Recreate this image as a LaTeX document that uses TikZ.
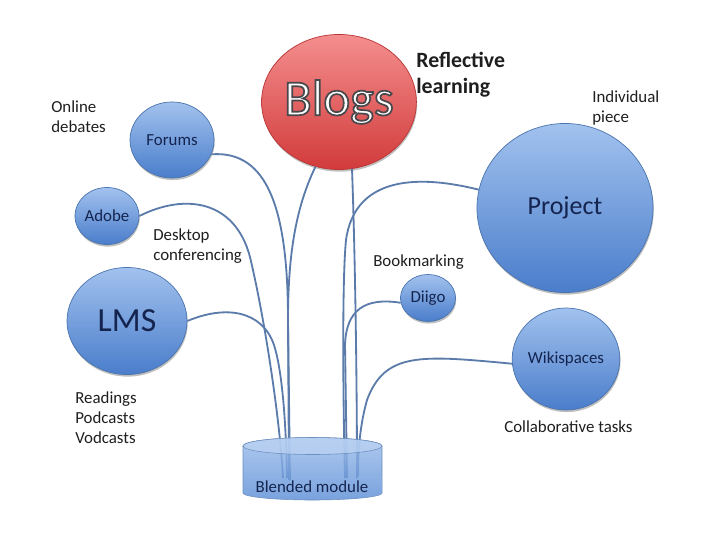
\documentclass[tikz,border=0pt]{standalone}
\usepackage{fontspec}
\setmainfont{Carlito}
\usetikzlibrary{shapes.geometric,shadows}
\definecolor{bubbletop}{HTML}{A2C2EE}
\definecolor{bubblebot}{HTML}{4A7DCB}
\definecolor{bubbleedge}{HTML}{4A74AE}
\definecolor{blogtop}{HTML}{F48E8E}
\definecolor{blogbot}{HTML}{D23B3B}
\definecolor{blogedge}{HTML}{B93434}
\definecolor{linkblue}{HTML}{5B7CAB}
\definecolor{navy}{HTML}{14244E}
\definecolor{cyltop}{HTML}{BCD3F3}
\definecolor{cylmid}{HTML}{9DBEEC}
\definecolor{cylbot}{HTML}{5C8ED6}
% white letters with a dark rim
\newcommand{\rimtext}[1]{\special{pdf:literal direct 2 Tr 1.2 w 0.28 0.28 0.3 RG}#1\special{pdf:literal direct 0 Tr}}

\begin{document}
\begin{tikzpicture}[x=0.025cm,y=-0.025cm,
    bubble/.style={ellipse,draw=bubbleedge,line width=0.5pt,top color=bubbletop,
        bottom color=bubblebot,text=navy,inner sep=0pt,font=\fontsize{12}{14}\selectfont,
        drop shadow={shadow xshift=0.5pt,shadow yshift=-1.5pt,opacity=0.25,fill=black}},
    link/.style={linkblue,line width=1.3pt},
    note/.style={anchor=base west,inner sep=0pt,align=left,text=black!88,
        font=\fontsize{12}{14}\selectfont}]
    \fill[white] (0,0) rectangle (720,540);
    \useasboundingbox (0,0) rectangle (720,540);

    % tools
    \node[bubble,top color=blogtop,bottom color=blogbot,draw=blogedge,text=white,
        minimum width=3.7cm,minimum height=3.375cm,font=\fontsize{36}{36}\selectfont]
        (blogs) at (339,102) {\rimtext{Blogs}\hspace{10pt}};
    \node[bubble,minimum width=2.1cm,minimum height=1.9cm] (forums) at (172,140) {Forums\hspace{12pt}};
    \node[bubble,minimum width=1.6cm,minimum height=1.425cm] (adobe) at (107,216) {Adobe};
    \node[bubble,minimum width=3.0cm,minimum height=2.675cm,
        font=\fontsize{24}{24}\selectfont] (lms) at (127,321) {LMS\hspace{10pt}};
    \node[bubble,minimum width=4.4cm,minimum height=4.225cm,
        font=\fontsize{18.5}{20}\selectfont] (project) at (565,208) {Project\hspace{8pt}};
    \node[bubble,minimum width=1.375cm,minimum height=1.175cm] (diigo) at (428,298) {Diigo};
    \node[bubble,minimum width=2.575cm,minimum height=2.55cm] (wiki) at (566,359) {Wikispaces};

    % ends inside the module
    \coordinate (inAdobe) at (283,478);
    \coordinate (inLms) at (287,478);
    \coordinate (inForums) at (289,480);
    \coordinate (inBlogsL) at (290,480);
    \coordinate (inProject) at (345,478);
    \coordinate (inDiigo) at (347,478);
    \coordinate (inBlogsR) at (357,478);
    \coordinate (inWiki) at (358,476);

    % links
    \draw[link] (forums.-20) .. controls (268,150) and (288,210) .. (288,320) -- (inForums);
    \draw[link] (adobe.east) .. controls (185,193) and (235,200) .. (250,257)
        .. controls (265,320) and (280,420) .. (inAdobe);
    \draw[link] (lms.east) .. controls (225,305) and (262,310) .. (274,345)
        .. controls (282,370) and (286,420) .. (inLms);
    \draw[link] (blogs.-110) .. controls (297,205) and (288,250) .. (288,320) -- (inBlogsL);
    \draw[link] (blogs.-79) .. controls (355,250) and (357,380) .. (inBlogsR);
    \draw[link] (project.168) .. controls (420,175) and (355,175) .. (346,240)
        .. controls (342,280) and (343,400) .. (inProject);
    \draw[link] (diigo.190) .. controls (365,297) and (346,310) .. (345,345) -- (inDiigo);
    \draw[link] (wiki.185) .. controls (420,355) and (385,352) .. (367,400)
        .. controls (360,425) and (358,450) .. (inWiki);

    % blended module
    \path[top color=cylmid,bottom color=cylbot,draw=bubbleedge!80,line width=0.4pt,
        fill opacity=0.82]
        (243,446) -- (243,493) arc[start angle=180,end angle=360,x radius=1.7375cm,y radius=0.175cm]
        -- (382,446) arc[start angle=0,end angle=180,x radius=1.7375cm,y radius=0.2125cm] -- cycle;
    \path[fill=cyltop,draw=bubbleedge!80,line width=0.4pt,fill opacity=0.7]
        (312.5,446) ellipse[x radius=1.7375cm,y radius=0.2125cm];
    \node[text=navy,font=\fontsize{12}{14}\selectfont] (blend) at (312,487) {Blended module};

    % notes (placed by the baseline of their last line)
    \node[note,font=\fontsize{15.5}{18}\selectfont\bfseries] (reflect) at (416,93) {Reflective\\learning};
    \node[note] (debates) at (51,132) {Online\\debates};
    \node[note] (piece) at (592,122) {Individual\\piece};
    \node[note] (desktop) at (153,260) {Desktop\\conferencing};
    \node[note] (bookmark) at (373,266) {Bookmarking};
    \node[note] (readings) at (75,443) {Readings\\Podcasts\\Vodcasts};
    \node[note] (collab) at (504,432) {Collaborative tasks};
\end{tikzpicture}
\end{document}
